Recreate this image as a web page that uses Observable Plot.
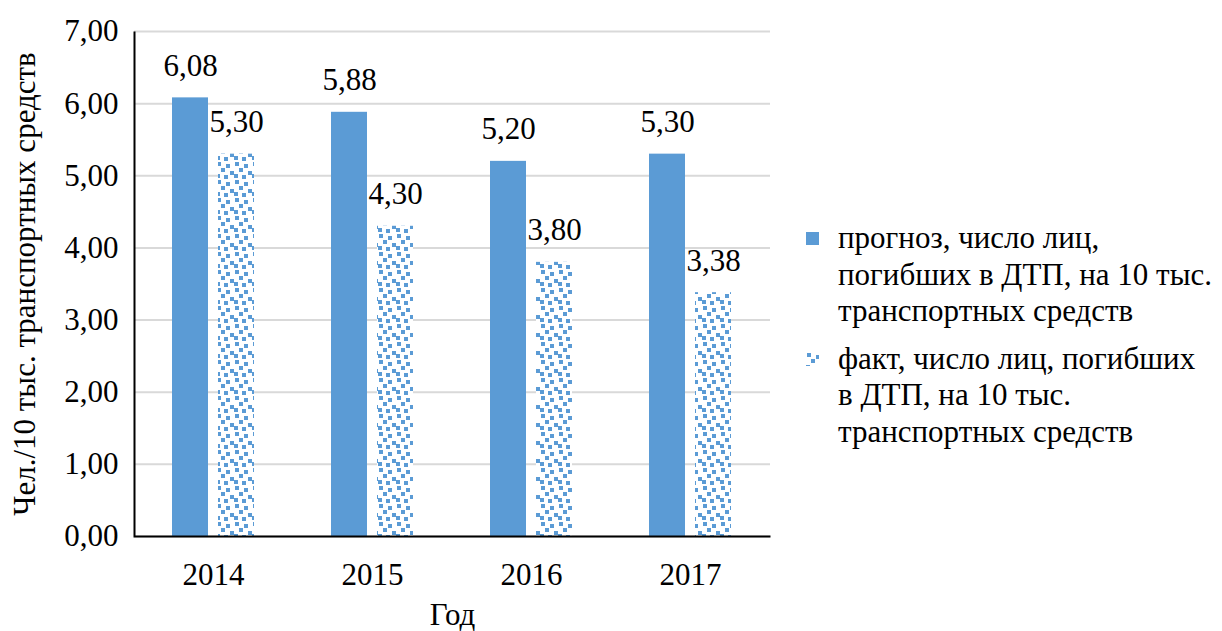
<!DOCTYPE html>
<html>
<head>
<meta charset="utf-8">
<script src="https://cdn.jsdelivr.net/npm/d3@7"></script>
<script src="https://cdn.jsdelivr.net/npm/@observablehq/plot@0.6"></script>
</head>
<body style="margin:0;padding:0;background:#fff">
<div id="wrap" style="position:relative;width:1222px;height:631px">
  <div id="chart"></div>
  <div id="legend" style="position:absolute;left:806px;top:220px;font-family:'Liberation Serif';font-size:31px;line-height:36.5px;color:#000"></div>
</div>
<script>
const years = ["2014", "2015", "2016", "2017"];
const prognoz = [6.08, 5.88, 5.20, 5.30];
const fact = [5.30, 4.30, 3.80, 3.38];
const yTicks = [0, 1, 2, 3, 4, 5, 6, 7];
const seriesNames = [
  "прогноз, число лиц,<br>погибших в ДТП, на 10 тыс.<br>транспортных средств",
  "факт, число лиц, погибших<br>в ДТП, на 10 тыс.<br>транспортных средств"
];
const yTitle = "Чел./10 тыс. транспортных средств";
const xTitle = "Год";

const blue = "#5b9bd5";
const FONT = "Liberation Serif";
const fmt = v => d3.format(".2f")(v).replace(".", ",");
const data = years.map((y, i) => ({year: y, prognoz: prognoz[i], fact: fact[i]}));

// dotted pattern (style definition)
const dotCells = [[1, 0], [10, 2], [5, 6], [14, 9], [0, 12], [8, 13]];
function makePattern(id) {
  const defs = d3.create("svg:defs");
  const p = defs.append("pattern").attr("id", id).attr("patternUnits", "userSpaceOnUse").attr("width", 18).attr("height", 18);
  p.append("rect").attr("width", 18).attr("height", 18).attr("fill", "#fff");
  dotCells.forEach(([a, b]) => p.append("rect").attr("x", a).attr("y", b).attr("width", 4).attr("height", 4).attr("fill", blue));
  return defs.node();
}

const W = 1222, H = 631, mt = 31, mb = 95, ml = 134, mr = 452;
const pw = W - ml - mr, ph = H - mt - mb;

const chart = Plot.plot({
  width: W, height: H,
  marginTop: mt, marginBottom: mb, marginLeft: ml, marginRight: mr,
  style: `font-family: '${FONT}'; font-size: 31px; color: #000; background: #fff;`,
  x: {domain: years, paddingInner: 0.484, paddingOuter: 0.242},
  y: {domain: [0, 7]},
  marks: [
    () => makePattern("dots"),
    Plot.gridY(yTicks, {stroke: "#d9d9d9", strokeOpacity: 1, strokeWidth: 2}),
    Plot.barY(data, {x: "year", y: "prognoz", fill: blue, insetRight: 46}),
    Plot.barY(data, {x: "year", y: "fact", fill: "url(#dots)", insetLeft: 46}),
    Plot.text(data, {x: "year", y: "prognoz", text: d => fmt(d.prognoz), dx: -23, dy: -32, fill: "#000"}),
    Plot.text(data, {x: "year", y: "fact", text: d => fmt(d.fact), dx: 23, dy: -32, fill: "#000"}),
    Plot.frame({stroke: "#000", strokeWidth: 2, strokeDasharray: `0,${pw + ph},${pw + ph}`}),
    Plot.axisY(yTicks, {tickSize: 0, tickPadding: 16, tickFormat: fmt, label: yTitle, labelAnchor: "center", labelArrow: "none", labelOffset: 122}),
    Plot.axisX({tickSize: 0, tickPadding: 26, label: xTitle, labelAnchor: "center", labelArrow: "none", labelOffset: 88})
  ]
});
d3.select(chart).attr("font-family", FONT).attr("font-size", 31);
d3.select(chart).selectAll("text").attr("font-family", FONT).style("font-family", FONT);
document.getElementById("chart").appendChild(chart);

const legend = document.getElementById("legend");
seriesNames.forEach((name, i) => {
  const it = document.createElement("div");
  it.style.cssText = "display:flex;align-items:flex-start;margin-bottom:11px";
  const sw = document.createElementNS("http://www.w3.org/2000/svg", "svg");
  sw.setAttribute("width", 13); sw.setAttribute("height", 13);
  sw.style.cssText = "flex:none;margin-top:12px;margin-right:19px";
  const r = document.createElementNS("http://www.w3.org/2000/svg", "rect");
  r.setAttribute("width", 13); r.setAttribute("height", 13);
  r.setAttribute("fill", i === 0 ? blue : "url(#dots)");
  sw.appendChild(r);
  const t = document.createElement("div");
  t.style.fontFamily = FONT;
  t.innerHTML = name;
  it.appendChild(sw); it.appendChild(t);
  legend.appendChild(it);
});
</script>
</body>
</html>
